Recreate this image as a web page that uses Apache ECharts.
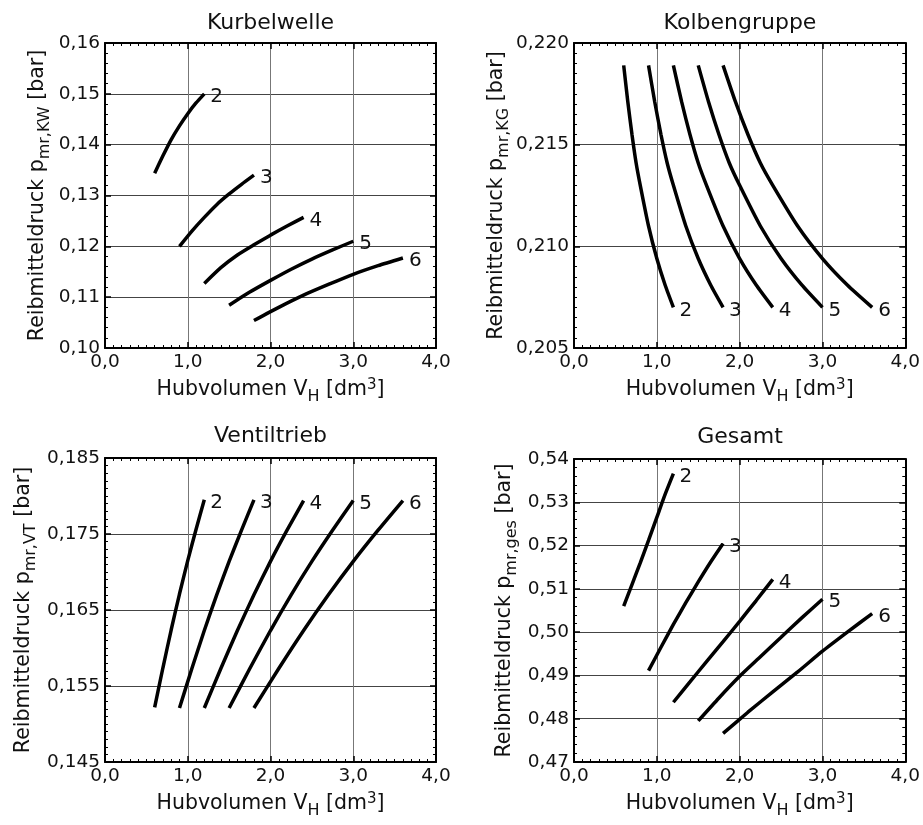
<!DOCTYPE html>
<html>
<head>
<meta charset="utf-8">
<script src="https://cdn.jsdelivr.net/npm/echarts@6/dist/echarts.min.js"></script>
<style>
html,body{margin:0;padding:0;background:#fff;}
#chart{width:923px;height:825px;}
</style>
</head>
<body>
<div id="chart"></div>
<script>
// ---------- data ----------
const cylinders = ['2', '3', '4', '5', '6'];
const titles = ['Kurbelwelle', 'Kolbengruppe', 'Ventiltrieb', 'Gesamt'];
const subscripts = ['mr,KW', 'mr,KG', 'mr,VT', 'mr,ges'];

// Hubvolumen V_H [dm3] per cylinder count
const vh2 = [0.6, 0.7, 0.8, 0.9, 1.0, 1.1, 1.2];
const vh3 = [0.9, 1.05, 1.2, 1.35, 1.5, 1.65, 1.8];
const vh4 = [1.2, 1.4, 1.6, 1.8, 2.0, 2.2, 2.4];
const vh5 = [1.5, 1.75, 2.0, 2.25, 2.5, 2.75, 3.0];
const vh6 = [1.8, 2.1, 2.4, 2.7, 3.0, 3.3, 3.6];

// Kurbelwelle
const kw2 = [0.1344, 0.1378, 0.1410, 0.1437, 0.1461, 0.1482, 0.1500];
const kw3 = [0.1200, 0.1230, 0.1257, 0.1282, 0.1303, 0.1322, 0.1340];
const kw4 = [0.1127, 0.1158, 0.1183, 0.1203, 0.1222, 0.1240, 0.1257];
const kw5 = [0.1084, 0.1110, 0.1133, 0.1155, 0.1175, 0.1193, 0.1210];
const kw6 = [0.1054, 0.1080, 0.1104, 0.1125, 0.1145, 0.1162, 0.1177];

// Kolbengruppe (finer x steps)
const kgX2 = [0.6, 0.65, 0.7, 0.75, 0.8, 0.9, 1.0, 1.1, 1.2];
const kgX3 = [0.9, 0.975, 1.05, 1.125, 1.2, 1.35, 1.5, 1.65, 1.8];
const kgX4 = [1.2, 1.3, 1.4, 1.5, 1.6, 1.8, 2.0, 2.2, 2.4];
const kgX5 = [1.5, 1.625, 1.75, 1.875, 2.0, 2.25, 2.5, 2.75, 3.0];
const kgX6 = [1.8, 1.95, 2.1, 2.25, 2.4, 2.7, 3.0, 3.3, 3.6];
const kg2 = [0.2189, 0.2171, 0.2155, 0.2141, 0.2130, 0.2110, 0.2094, 0.2081, 0.2070];
const kg3 = [0.2189, 0.2171, 0.2155, 0.2141, 0.2130, 0.2110, 0.2094, 0.2081, 0.2070];
const kg4 = [0.2189, 0.2171, 0.2155, 0.2141, 0.2130, 0.2110, 0.2094, 0.2081, 0.2070];
const kg5 = [0.2189, 0.2171, 0.2155, 0.2141, 0.2130, 0.2110, 0.2094, 0.2081, 0.2070];
const kg6 = [0.2189, 0.2171, 0.2155, 0.2141, 0.2130, 0.2110, 0.2094, 0.2081, 0.2070];

// Ventiltrieb
const vt2 = [0.1522, 0.1574, 0.1624, 0.1671, 0.1715, 0.1756, 0.1795];
const vt3 = [0.1521, 0.1573, 0.1623, 0.1670, 0.1714, 0.1755, 0.1795];
const vt4 = [0.1521, 0.1573, 0.1623, 0.1670, 0.1714, 0.1755, 0.1794];
const vt5 = [0.1521, 0.1573, 0.1623, 0.1670, 0.1714, 0.1755, 0.1794];
const vt6 = [0.1521, 0.1573, 0.1623, 0.1670, 0.1714, 0.1755, 0.1794];

// Gesamt
const ges2 = [0.5060, 0.5110, 0.5160, 0.5212, 0.5265, 0.5318, 0.5366];
const ges3 = [0.4911, 0.4965, 0.5018, 0.5068, 0.5116, 0.5162, 0.5205];
const ges4 = [0.4838, 0.4885, 0.4932, 0.4978, 0.5025, 0.5073, 0.5122];
const ges5 = [0.4795, 0.4848, 0.4898, 0.4943, 0.4988, 0.5033, 0.5076];
const ges6 = [0.4766, 0.4815, 0.4862, 0.4908, 0.4956, 0.5000, 0.5043];

// axis ranges
const xRange = [0, 4, 1];
const yRanges = [[0.10, 0.16, 0.01], [0.205, 0.220, 0.005], [0.145, 0.185, 0.01], [0.47, 0.54, 0.01]];
const yDecimals = [2, 3, 3, 2];

// ---------- layout / style ----------
const FONT = 'DejaVu Sans';
const panels = [
  { grid: {left: 105, top: 43, width: 331, height: 305}, titleY: 23, yMinor: 5, nameGap: 52,
    xs: [vh2, vh3, vh4, vh5, vh6], ys: [kw2, kw3, kw4, kw5, kw6] },
  { grid: {left: 574, top: 43, width: 332, height: 305}, titleY: 23, yMinor: 10, nameGap: 60,
    xs: [kgX2, kgX3, kgX4, kgX5, kgX6], ys: [kg2, kg3, kg4, kg5, kg6] },
  { grid: {left: 105, top: 458, width: 331, height: 304}, titleY: 436, yMinor: 10, nameGap: 66,
    xs: [vh2, vh3, vh4, vh5, vh6], ys: [vt2, vt3, vt4, vt5, vt6] },
  { grid: {left: 574, top: 459, width: 332, height: 303}, titleY: 437, yMinor: 5, nameGap: 54,
    xs: [vh2, vh3, vh4, vh5, vh6], ys: [ges2, ges3, ges4, ges5, ges6] }
];

const NAME_SIZE = 20.5;
const richName = {
  n: {fontFamily: FONT, fontSize: NAME_SIZE, color: '#111'},
  sub: {fontSize: 16, fontFamily: FONT, color: '#111', padding: [14, 0, 0, 0]},
  sup: {fontSize: 15, fontFamily: FONT, color: '#111', padding: [0, 0, 10, 0]}
};

const axisLine = {show: true, onZero: false, lineStyle: {color: '#000', width: 2}};
const axisTick = {show: true, inside: true, length: 6, lineStyle: {color: '#000', width: 1.5}};

const grids = [], xAxes = [], yAxes = [], series = [], titleArr = [];

panels.forEach((p, i) => {
  grids.push(Object.assign({containLabel: false}, p.grid));
  const cx = p.grid.left + p.grid.width / 2;
  titleArr.push({
    text: titles[i], left: cx, top: p.titleY, padding: 0,
    textAlign: 'center', textVerticalAlign: 'middle',
    textStyle: {fontFamily: FONT, fontSize: 22, fontWeight: 'normal', color: '#111'}
  });
  const yr = yRanges[i];
  const dec = yDecimals[i];
  // bottom x
  xAxes.push({
    type: 'value', gridIndex: i, position: 'bottom', min: xRange[0], max: xRange[1], interval: xRange[2],
    axisLine, axisTick,
    minorTick: {show: true, splitNumber: 10, length: 3, lineStyle: {color: '#000', width: 1}},
    splitLine: {show: true, lineStyle: {color: '#777', width: 1}},
    axisLabel: {fontFamily: FONT, fontSize: 18.5, color: '#111', margin: 5,
      formatter: v => v.toFixed(1).replace('.', ',')},
    name: '{n|Hubvolumen V}{sub|H}{n| [dm}{sup|3}{n|]}',
    nameLocation: 'middle', nameGap: 27,
    nameTextStyle: {fontFamily: FONT, fontSize: NAME_SIZE, color: '#111', rich: richName}
  });
  // top x (ticks only)
  xAxes.push({
    type: 'value', gridIndex: i, position: 'top', min: xRange[0], max: xRange[1], interval: xRange[2],
    axisLine, axisTick,
    minorTick: {show: true, splitNumber: 10, length: 3, lineStyle: {color: '#000', width: 1}},
    splitLine: {show: false}, axisLabel: {show: false}
  });
  // left y
  yAxes.push({
    type: 'value', gridIndex: i, position: 'left', min: yr[0], max: yr[1], interval: yr[2],
    axisLine, axisTick,
    minorTick: {show: true, splitNumber: p.yMinor, length: 3, lineStyle: {color: '#000', width: 1}},
    splitLine: {show: true, lineStyle: {color: '#444', width: 1}},
    axisLabel: {fontFamily: FONT, fontSize: 18.5, color: '#111', margin: 5,
      formatter: v => v.toFixed(dec).replace('.', ',')},
    name: '{n|Reibmitteldruck p}{sub|' + subscripts[i] + '}{n| [bar]}',
    nameLocation: 'middle', nameGap: p.nameGap, nameRotate: 90,
    nameTextStyle: {fontFamily: FONT, fontSize: NAME_SIZE, color: '#111', rich: richName}
  });
  // right y (ticks only)
  yAxes.push({
    type: 'value', gridIndex: i, position: 'right', min: yr[0], max: yr[1], interval: yr[2],
    axisLine, axisTick,
    minorTick: {show: true, splitNumber: p.yMinor, length: 3, lineStyle: {color: '#000', width: 1}},
    splitLine: {show: false}, axisLabel: {show: false}
  });
  cylinders.forEach((c, k) => {
    const xs = p.xs[k], ys = p.ys[k];
    series.push({
      type: 'line', name: c, xAxisIndex: 2 * i, yAxisIndex: 2 * i,
      data: xs.map((x, j) => [x, ys[j]]),
      showSymbol: false, symbol: 'none', smooth: 0.2,
      lineStyle: {color: '#000', width: 3.5, cap: 'butt'},
      endLabel: {show: true, formatter: '{a}', distance: 6, offset: [0, 3],
        fontFamily: FONT, fontSize: 20, color: '#111'},
      animation: false, silent: true
    });
  });
});

const chart = echarts.init(document.getElementById('chart'), null, {renderer: 'canvas'});
chart.setOption({
  backgroundColor: '#fff',
  animation: false,
  title: titleArr,
  grid: grids,
  xAxis: xAxes,
  yAxis: yAxes,
  series
});
</script>
</body>
</html>
